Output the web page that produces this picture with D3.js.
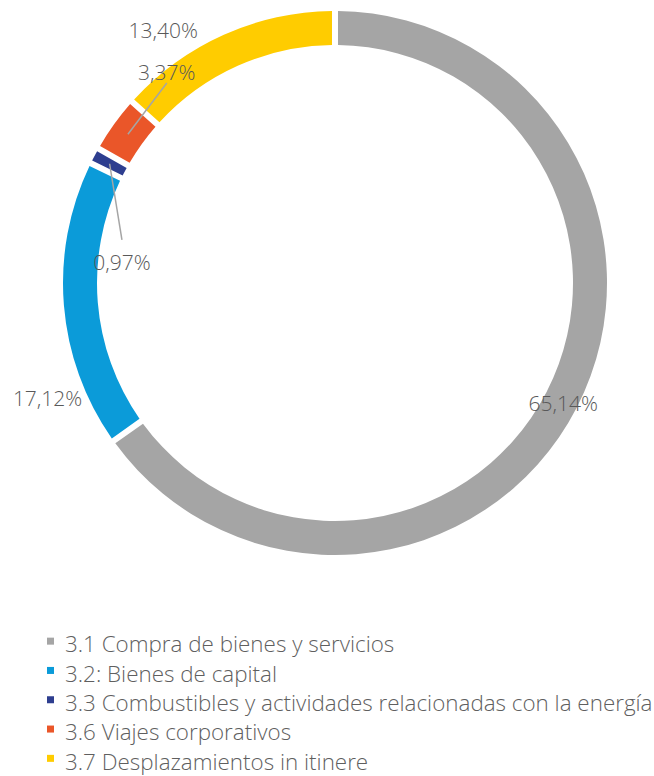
<!DOCTYPE html>
<html>
<head>
<meta charset="utf-8">
<script src="https://cdn.jsdelivr.net/npm/d3@7"></script>
<style>
	body { margin: 0; background: #fff; }
	svg { display: block; font-family: "Open Sans", "Noto Sans", sans-serif; }
</style>
</head>
<body>
<div class="chart"></div>
<script>
	'use strict';

	// data
	var categories = [
		'3.1 Compra de bienes y servicios',
		'3.2: Bienes de capital',
		'3.3 Combustibles y actividades relacionadas con la energía',
		'3.6 Viajes corporativos',
		'3.7 Desplazamientos in itinere'
	];
	var values = [65.14, 17.12, 0.97, 3.37, 13.40];
	var labels = ['65,14%', '17,12%', '0,97%', '3,37%', '13,40%'];
	var colors = ['#a5a5a5', '#0b9bd9', '#2e3e8f', '#ea5629', '#ffcc00'];

	// label placement: angle (deg, clockwise from top) and radius, plus leader flag
	var labelAngle = [117.8, 248, 275.4, 321.3, 325.7];
	var labelRadius = [258, 310, 214, 269, 305];
	var leader = [0, 0, 1, 1, 0];

	var width = 654, height = 776;
	var cx = 335, cy = 283;
	var outer = 272, inner = 238;

	var svg = d3.select('.chart').append('svg')
		.attr('width', width).attr('height', height);

	var g = svg.append('g').attr('transform', 'translate(' + cx + ',' + cy + ')');

	var pie = d3.pie().sort(null).value(function(d) { return d; });
	var arcs = pie(values);
	var arc = d3.arc().innerRadius(inner).outerRadius(outer);
	// constant-width white gap between slices
	var padR = (inner + outer) / 2;
	var slicePath = d3.arc().innerRadius(inner).outerRadius(outer)
		.padRadius(padR).padAngle(6 / padR);

	g.selectAll('path.slice')
		.data(arcs)
		.enter().append('path')
		.attr('class', 'slice')
		.attr('d', slicePath)
		.attr('fill', function(d, i) { return colors[i]; });

	function polar(angleDeg, r) {
		var a = angleDeg * Math.PI / 180;
		return [Math.sin(a) * r, -Math.cos(a) * r];
	}

	var labelPos = labels.map(function(d, i) { return polar(labelAngle[i], labelRadius[i]); });

	// leader lines for the thin slices
	arcs.forEach(function(d, i) {
		if (!leader[i]) return;
		var c = arc.centroid(d);
		var p = labelPos[i];
		var y0 = p[1] < c[1] ? p[1] + 10 : p[1] - 23;
		g.append('line')
			.attr('x1', p[0]).attr('y1', y0)
			.attr('x2', c[0]).attr('y2', c[1])
			.attr('stroke', '#a5a5a5')
			.attr('stroke-width', 1.5);
	});

	g.selectAll('text.lbl')
		.data(labels)
		.enter().append('text')
		.attr('class', 'lbl')
		.attr('x', function(d, i) { return labelPos[i][0]; })
		.attr('y', function(d, i) { return labelPos[i][1]; })
		.attr('dy', '0.35em')
		.attr('text-anchor', 'middle')
		.attr('fill', '#595959')
		.attr('font-size', 21)
		.attr('font-weight', 300)
		.text(function(d) { return d; });

	// legend
	var legendY = d3.scaleBand().domain(d3.range(categories.length)).range([630, 776.5]);
	var legend = svg.append('g');
	var rows = legend.selectAll('g.row')
		.data(categories)
		.enter().append('g')
		.attr('class', 'row')
		.attr('transform', function(d, i) {
			return 'translate(0,' + (legendY(i) + legendY.bandwidth() / 2) + ')';
		});
	rows.append('rect')
		.attr('x', 47).attr('y', -7).attr('width', 7).attr('height', 7)
		.attr('fill', function(d, i) { return colors[i]; });
	rows.append('text')
		.attr('x', 65)
		.attr('dy', '0.35em')
		.attr('fill', '#5f5f5f')
		.attr('font-size', 22.4)
		.attr('font-weight', 300)
		.text(function(d) { return d; });
</script>
</body>
</html>
